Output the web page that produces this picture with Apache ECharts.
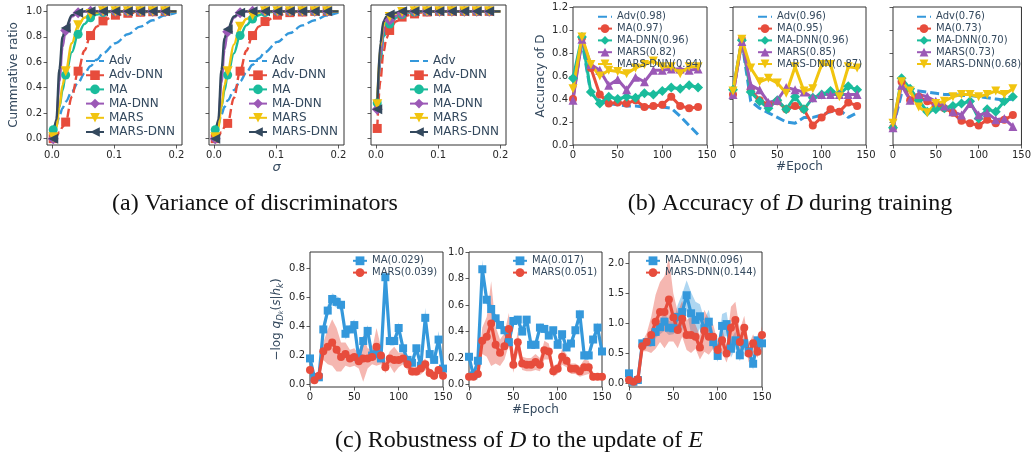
<!DOCTYPE html>
<html lang="en">
<head>
<meta charset="UTF-8">
<title>Discriminator variance, accuracy and robustness</title>
<script src="https://cdn.jsdelivr.net/npm/echarts@6/dist/echarts.min.js"></script>
<style>
  html, body { margin: 0; padding: 0; background: #fff; }
  #main { width: 1034px; height: 460px; }
</style>
</head>
<body>
<div id="main"></div>
<script>
// ---- (a) cumulative ratio over sigma ----
var sigma = [0.002, 0.007, 0.012, 0.017, 0.022, 0.032, 0.042, 0.052, 0.062, 0.072, 0.082, 0.102, 0.122, 0.142, 0.162, 0.182, 0.2];
var sigmaMarked = [0, 4, 6, 8, 10, 11, 12, 13, 14, 15];

var a1Adv     = [0.00, 0.10, 0.18, 0.24, 0.29, 0.37, 0.44, 0.51, 0.57, 0.62, 0.67, 0.75, 0.82, 0.88, 0.93, 0.97, 0.99];
var a1AdvDnn  = [0.00, 0.02, 0.05, 0.09, 0.13, 0.33, 0.53, 0.69, 0.81, 0.88, 0.925, 0.97, 0.985, 0.993, 0.997, 1.0, 1.0];
var a1Ma      = [0.07, 0.13, 0.25, 0.38, 0.50, 0.68, 0.82, 0.90, 0.95, 0.975, 0.99, 1.0, 1.0, 1.0, 1.0, 1.0, 1.0];
var a1MaDnn   = [0.00, 0.12, 0.45, 0.72, 0.85, 0.96, 0.99, 1.0, 1.0, 1.0, 1.0, 1.0, 1.0, 1.0, 1.0, 1.0, 1.0];
var a1Mars    = [0.01, 0.08, 0.25, 0.42, 0.53, 0.75, 0.89, 0.95, 0.98, 0.99, 1.0, 1.0, 1.0, 1.0, 1.0, 1.0, 1.0];
var a1MarsDnn = [0.00, 0.15, 0.55, 0.80, 0.87, 0.97, 0.99, 1.0, 1.0, 1.0, 1.0, 1.0, 1.0, 1.0, 1.0, 1.0, 1.0];

var a2Adv     = [0.00, 0.11, 0.19, 0.25, 0.30, 0.38, 0.45, 0.52, 0.58, 0.63, 0.68, 0.76, 0.83, 0.89, 0.93, 0.97, 0.99];
var a2AdvDnn  = [0.00, 0.02, 0.05, 0.09, 0.12, 0.32, 0.53, 0.69, 0.81, 0.88, 0.92, 0.97, 0.99, 0.995, 1.0, 1.0, 1.0];
var a2Ma      = [0.07, 0.13, 0.25, 0.38, 0.50, 0.67, 0.81, 0.89, 0.94, 0.97, 0.99, 1.0, 1.0, 1.0, 1.0, 1.0, 1.0];
var a2MaDnn   = [0.00, 0.12, 0.44, 0.70, 0.84, 0.95, 0.99, 1.0, 1.0, 1.0, 1.0, 1.0, 1.0, 1.0, 1.0, 1.0, 1.0];
var a2Mars    = [0.01, 0.08, 0.25, 0.42, 0.53, 0.74, 0.88, 0.94, 0.97, 0.99, 1.0, 1.0, 1.0, 1.0, 1.0, 1.0, 1.0];
var a2MarsDnn = [0.00, 0.15, 0.54, 0.79, 0.86, 0.96, 0.99, 1.0, 1.0, 1.0, 1.0, 1.0, 1.0, 1.0, 1.0, 1.0, 1.0];

var a3Adv     = [0.20, 0.60, 0.78, 0.86, 0.90, 0.945, 0.97, 0.985, 0.99, 0.995, 0.997, 1.0, 1.0, 1.0, 1.0, 1.0, 1.0];
var a3AdvDnn  = [0.08, 0.45, 0.68, 0.79, 0.85, 0.92, 0.955, 0.97, 0.98, 0.99, 0.995, 1.0, 1.0, 1.0, 1.0, 1.0, 1.0];
var a3Ma      = [0.28, 0.62, 0.80, 0.87, 0.90, 0.95, 0.975, 0.99, 0.995, 0.998, 1.0, 1.0, 1.0, 1.0, 1.0, 1.0, 1.0];
var a3MaDnn   = [0.23, 0.65, 0.84, 0.90, 0.93, 0.965, 0.985, 0.995, 1.0, 1.0, 1.0, 1.0, 1.0, 1.0, 1.0, 1.0, 1.0];
var a3Mars    = [0.27, 0.72, 0.89, 0.94, 0.955, 0.985, 0.995, 1.0, 1.0, 1.0, 1.0, 1.0, 1.0, 1.0, 1.0, 1.0, 1.0];
var a3MarsDnn = [0.23, 0.75, 0.92, 0.96, 0.975, 0.99, 1.0, 1.0, 1.0, 1.0, 1.0, 1.0, 1.0, 1.0, 1.0, 1.0, 1.0];

var aNames = ['Adv', 'Adv-DNN', 'MA', 'MA-DNN', 'MARS', 'MARS-DNN'];

// ---- (b) accuracy of D over epochs ----
var bEpoch = [0, 10, 20, 30, 40, 50, 60, 70, 80, 90, 100, 110, 120, 130, 140];

var b1Adv     = [0.42, 0.90, 0.45, 0.38, 0.36, 0.35, 0.34, 0.34, 0.33, 0.33, 0.33, 0.32, 0.25, 0.17, 0.09];
var b1Ma      = [0.40, 0.93, 0.67, 0.44, 0.36, 0.37, 0.36, 0.39, 0.33, 0.34, 0.35, 0.42, 0.34, 0.32, 0.33];
var b1MaDnn   = [0.58, 0.94, 0.46, 0.36, 0.42, 0.40, 0.42, 0.41, 0.45, 0.44, 0.47, 0.50, 0.49, 0.52, 0.50];
var b1Mars    = [0.39, 0.92, 0.70, 0.65, 0.52, 0.57, 0.48, 0.59, 0.55, 0.65, 0.65, 0.66, 0.66, 0.65, 0.66];
var b1MarsDnn = [0.49, 0.94, 0.70, 0.60, 0.65, 0.64, 0.62, 0.67, 0.70, 0.73, 0.68, 0.68, 0.62, 0.68, 0.68];
var b1Names = ['Adv(0.98)', 'MA(0.97)', 'MA-DNN(0.96)', 'MARS(0.82)', 'MARS-DNN(0.94)'];

var b2Adv     = [0.45, 0.90, 0.38, 0.32, 0.28, 0.24, 0.20, 0.19, 0.24, 0.24, 0.26, 0.29, 0.31, 0.24, 0.28];
var b2Ma      = [0.44, 0.92, 0.48, 0.39, 0.35, 0.38, 0.31, 0.34, 0.31, 0.17, 0.24, 0.31, 0.29, 0.37, 0.34];
var b2MaDnn   = [0.48, 0.91, 0.46, 0.38, 0.32, 0.39, 0.31, 0.42, 0.31, 0.41, 0.44, 0.47, 0.44, 0.51, 0.48];
var b2Mars    = [0.44, 0.90, 0.52, 0.48, 0.37, 0.39, 0.50, 0.48, 0.46, 0.41, 0.44, 0.44, 0.44, 0.44, 0.44];
var b2MarsDnn = [0.47, 0.92, 0.67, 0.55, 0.58, 0.54, 0.45, 0.68, 0.47, 0.49, 0.70, 0.70, 0.42, 0.68, 0.67];
var b2Names = ['Adv(0.96)', 'MA(0.95)', 'MA-DNN(0.96)', 'MARS(0.85)', 'MARS-DNN(0.87)'];

var b3Adv     = [0.15, 0.45, 0.48, 0.47, 0.46, 0.45, 0.44, 0.44, 0.43, 0.43, 0.42, 0.41, 0.40, 0.39, 0.40];
var b3Ma      = [0.15, 0.55, 0.39, 0.42, 0.38, 0.35, 0.32, 0.28, 0.21, 0.19, 0.17, 0.22, 0.19, 0.22, 0.26];
var b3MaDnn   = [0.15, 0.58, 0.49, 0.39, 0.29, 0.31, 0.32, 0.34, 0.36, 0.38, 0.23, 0.31, 0.29, 0.38, 0.42];
var b3Mars    = [0.15, 0.52, 0.39, 0.44, 0.42, 0.38, 0.34, 0.29, 0.26, 0.36, 0.26, 0.28, 0.22, 0.23, 0.16];
var b3MarsDnn = [0.19, 0.55, 0.47, 0.33, 0.28, 0.36, 0.38, 0.42, 0.44, 0.44, 0.42, 0.44, 0.47, 0.44, 0.49];
var b3Names = ['Adv(0.76)', 'MA(0.73)', 'MA-DNN(0.70)', 'MARS(0.73)', 'MARS-DNN(0.68)'];

// ---- (c) -log q over epochs, mean and spread ----
var cEpoch = [0, 5, 10, 15, 20, 25, 30, 35, 40, 45, 50, 55, 60, 65, 70, 75, 80, 85, 90, 95, 100, 105, 110, 115, 120, 125, 130, 135, 140, 145, 150];

var c1Ma     = [0.18, 0.05, 0.05, 0.38, 0.51, 0.59, 0.57, 0.55, 0.35, 0.38, 0.41, 0.18, 0.30, 0.37, 0.20, 0.21, 0.18, 0.74, 0.30, 0.30, 0.39, 0.25, 0.17, 0.15, 0.25, 0.13, 0.46, 0.21, 0.17, 0.31, 0.11];
var c1MaSd   = [0.03, 0.02, 0.02, 0.04, 0.04, 0.04, 0.04, 0.04, 0.04, 0.03, 0.04, 0.04, 0.04, 0.04, 0.03, 0.03, 0.03, 0.05, 0.03, 0.03, 0.04, 0.03, 0.03, 0.03, 0.03, 0.03, 0.07, 0.04, 0.03, 0.06, 0.04];
var c1Mars   = [0.10, 0.03, 0.06, 0.23, 0.26, 0.29, 0.24, 0.19, 0.21, 0.18, 0.19, 0.16, 0.18, 0.18, 0.19, 0.26, 0.20, 0.12, 0.18, 0.17, 0.17, 0.18, 0.14, 0.09, 0.09, 0.11, 0.14, 0.08, 0.06, 0.10, 0.06];
var c1MarsSd = [0.03, 0.02, 0.02, 0.06, 0.12, 0.16, 0.15, 0.10, 0.08, 0.06, 0.06, 0.05, 0.16, 0.07, 0.05, 0.13, 0.06, 0.04, 0.05, 0.09, 0.05, 0.04, 0.04, 0.03, 0.03, 0.04, 0.04, 0.03, 0.03, 0.03, 0.03];
var c1Names = ['MA(0.029)', 'MARS(0.039)'];

var c2Ma     = [0.21, 0.07, 0.18, 0.87, 0.64, 0.57, 0.50, 0.45, 0.41, 0.32, 0.48, 0.49, 0.40, 0.49, 0.30, 0.30, 0.43, 0.42, 0.37, 0.41, 0.30, 0.38, 0.28, 0.31, 0.41, 0.53, 0.22, 0.22, 0.34, 0.43, 0.25];
var c2MaSd   = [0.03, 0.02, 0.03, 0.07, 0.04, 0.04, 0.03, 0.03, 0.03, 0.03, 0.03, 0.03, 0.03, 0.03, 0.03, 0.03, 0.03, 0.03, 0.03, 0.03, 0.03, 0.03, 0.03, 0.03, 0.03, 0.04, 0.03, 0.03, 0.03, 0.04, 0.03];
var c2Mars   = [0.06, 0.06, 0.08, 0.33, 0.36, 0.46, 0.30, 0.24, 0.29, 0.42, 0.15, 0.32, 0.16, 0.15, 0.15, 0.17, 0.15, 0.26, 0.25, 0.10, 0.12, 0.21, 0.18, 0.12, 0.12, 0.10, 0.13, 0.13, 0.06, 0.06, 0.06];
var c2MarsSd = [0.02, 0.02, 0.03, 0.10, 0.15, 0.32, 0.14, 0.10, 0.10, 0.12, 0.06, 0.08, 0.05, 0.05, 0.05, 0.06, 0.05, 0.07, 0.06, 0.04, 0.04, 0.06, 0.05, 0.04, 0.04, 0.04, 0.06, 0.05, 0.03, 0.02, 0.02];
var c2Names = ['MA(0.017)', 'MARS(0.051)'];

var c3Ma     = [0.17, 0.03, 0.06, 0.67, 0.69, 0.69, 0.86, 0.94, 1.03, 0.93, 0.92, 1.11, 1.19, 1.47, 1.17, 1.06, 1.12, 0.92, 1.03, 0.69, 0.46, 0.96, 0.99, 0.58, 0.72, 0.47, 0.67, 0.53, 0.33, 0.72, 0.67];
var c3MaSd   = [0.10, 0.03, 0.03, 0.05, 0.05, 0.08, 0.10, 0.12, 0.15, 0.12, 0.10, 0.20, 0.30, 0.25, 0.35, 0.30, 0.20, 0.15, 0.20, 0.15, 0.10, 0.20, 0.20, 0.15, 0.15, 0.10, 0.10, 0.10, 0.10, 0.10, 0.15];
var c3Mars   = [0.06, 0.03, 0.07, 0.62, 0.69, 0.81, 1.03, 1.19, 1.19, 1.40, 1.10, 0.89, 1.08, 0.81, 0.81, 0.78, 0.60, 0.88, 0.78, 0.78, 0.56, 0.72, 0.50, 0.93, 1.06, 0.69, 0.93, 0.50, 0.67, 0.53, 0.81];
var c3MarsSd = [0.03, 0.03, 0.03, 0.08, 0.15, 0.30, 0.45, 0.50, 0.60, 0.70, 0.40, 0.30, 0.30, 0.25, 0.30, 0.20, 0.20, 0.35, 0.30, 0.20, 0.15, 0.20, 0.15, 0.35, 0.30, 0.20, 0.20, 0.15, 0.15, 0.10, 0.15];
var c3Names = ['MA-DNN(0.096)', 'MARS-DNN(0.144)'];

// tick labels
var aXTicks = [0, 0.1, 0.2];
var aYTicks = [0, 0.2, 0.4, 0.6, 0.8, 1.0];
var c1YTicks = [0, 0.2, 0.4, 0.6, 0.8];
var c2YTicks = [0, 0.2, 0.4, 0.6, 0.8, 1.0];
var c3YTicks = [0, 0.5, 1.0, 1.5, 2.0];

// ---- styling ----
var FONT = 'DejaVu Sans';
var TICK = '#262626';
var LABEL = '#34495e';
var FRAME = '#333333';
var BLUE = '#3498db', RED = '#e74c3c', TEAL = '#1abc9c', PURPLE = '#9b59b6', YELLOW = '#f1c40f', NAVY = '#34495e';

var grids = [], xAxes = [], yAxes = [], series = [], legends = [];

function fmt1(v) { return v.toFixed(1); }

function axis(opts) {
  var ax = {
    type: 'value',
    min: opts.min, max: opts.max,
    axisLine: { show: false, onZero: false },
    splitLine: { show: false },
    axisTick: { show: true, inside: false, length: 3.5, lineStyle: { color: FRAME, width: 0.8 } },
    axisLabel: { show: opts.labels !== false, color: TICK, fontSize: 10, fontFamily: FONT, margin: 5 }
  };
  if (opts.ticks) {
    ax.axisTick.customValues = opts.ticks;
    ax.axisLabel.customValues = opts.ticks;
  } else {
    ax.interval = opts.interval;
  }
  if (opts.fmt) ax.axisLabel.formatter = opts.fmt;
  if (opts.name) {
    ax.name = opts.name;
    ax.nameLocation = 'middle';
    ax.nameGap = opts.nameGap;
    ax.nameTextStyle = Object.assign({ color: LABEL, fontSize: 12, fontFamily: FONT }, opts.nameStyle || {});
  }
  return ax;
}

function panel(box, xa, ya) {
  var gi = grids.length;
  grids.push({ left: box[0], top: box[1], width: box[2], height: box[3], show: true,
    borderColor: FRAME, borderWidth: 1, backgroundColor: 'transparent' });
  var x = axis(xa); x.gridIndex = gi; xAxes.push(x);
  var y = axis(ya); y.gridIndex = gi; yAxes.push(y);
  return gi;
}

function line(gi, name, xs, ys, st) {
  var data = xs.map(function (x, i) {
    if (st.marked && st.marked.indexOf(i) < 0) return { value: [x, ys[i]], symbol: 'none' };
    return [x, ys[i]];
  });
  return {
    type: 'line', name: name, xAxisIndex: gi, yAxisIndex: gi, data: data,
    symbol: st.symbol || 'none', symbolSize: st.size || 7, symbolRotate: st.rotate || 0,
    showSymbol: !!st.symbol, smooth: st.smooth || false, smoothMonotone: 'x',
    lineStyle: { color: st.color, width: st.width, type: st.dash ? [9, 4] : 'solid' },
    itemStyle: { color: st.color, borderWidth: 0 },
    clip: true, z: 3
  };
}

function band(gi, xs, mean, sd, fill) {
  return {
    type: 'custom', xAxisIndex: gi, yAxisIndex: gi, silent: true, clip: true, z: 2,
    data: [[xs[0], mean[0]]],
    renderItem: function (params, api) {
      var pts = [];
      for (var i = 0; i < xs.length; i++) pts.push(api.coord([xs[i], mean[i] + sd[i]]));
      for (var j = xs.length - 1; j >= 0; j--) pts.push(api.coord([xs[j], mean[j] - sd[j]]));
      return { type: 'polygon', shape: { points: pts }, style: { fill: fill } };
    }
  };
}

// dashed series have no marker, so their legend entry hides the symbol
function legend(left, top, names, plain, size, gap, iconW, iconH) {
  legends.push({
    orient: 'vertical', left: left, top: top, padding: 0, itemGap: gap,
    itemWidth: iconW, itemHeight: iconH, selectedMode: false,
    data: names.map(function (n, i) {
      return i === plain ? { name: n, itemStyle: { color: 'rgba(0,0,0,0)', borderWidth: 0 } } : n;
    }),
    textStyle: { color: LABEL, fontSize: size, fontFamily: FONT, lineHeight: size + 1 }
  });
}

// (a) panels
var aBoxes = [[47, 5, 135, 140], [209, 5, 135, 140], [371, 5, 135, 140]];
var aData = [
  [a1Adv, a1AdvDnn, a1Ma, a1MaDnn, a1Mars, a1MarsDnn],
  [a2Adv, a2AdvDnn, a2Ma, a2MaDnn, a2Mars, a2MarsDnn],
  [a3Adv, a3AdvDnn, a3Ma, a3MaDnn, a3Mars, a3MarsDnn]
];
var aStyles = [
  { color: BLUE, width: 2.4, dash: true },
  { color: RED, width: 2.4, dash: true, symbol: 'rect', size: 9 },
  { color: TEAL, width: 2.4, symbol: 'circle', size: 9 },
  { color: PURPLE, width: 2.4, symbol: 'diamond', size: 11 },
  { color: YELLOW, width: 2.4, symbol: 'triangle', size: 10, rotate: 180 },
  { color: NAVY, width: 2.4, symbol: 'triangle', size: 10, rotate: 90 }
];
var aLegendLeft = [85, 248, 409];
aBoxes.forEach(function (box, k) {
  var gi = panel(box,
    { min: -0.008, max: 0.209, ticks: aXTicks, fmt: fmt1,
      name: k === 1 ? 'σ' : null, nameGap: 14, nameStyle: { fontStyle: 'italic', fontSize: 13 } },
    { min: -0.05, max: 1.05, ticks: aYTicks, fmt: fmt1, labels: k === 0,
      name: k === 0 ? 'Cummrative ratio' : null, nameGap: 27 });
  aNames.forEach(function (n, s) {
    var st = Object.assign({ smooth: 0.35, marked: sigmaMarked }, aStyles[s]);
    series.push(line(gi, n, sigma, aData[k][s], st));
  });
  legend(aLegendLeft[k], 54.5, aNames, 0, 12, 1.2, 18, 12);
});

// (b) panels
var bBoxes = [[573, 7, 134, 138], [733, 7, 133, 138], [893, 7, 132, 138]];
var bData = [
  [b1Adv, b1Ma, b1MaDnn, b1Mars, b1MarsDnn],
  [b2Adv, b2Ma, b2MaDnn, b2Mars, b2MarsDnn],
  [b3Adv, b3Ma, b3MaDnn, b3Mars, b3MarsDnn]
];
var bNames = [b1Names, b2Names, b3Names];
var bStyles = [
  { color: BLUE, width: 3, dash: true },
  { color: RED, width: 3, symbol: 'circle', size: 8 },
  { color: TEAL, width: 3, symbol: 'diamond', size: 10 },
  { color: PURPLE, width: 3, symbol: 'triangle', size: 9 },
  { color: YELLOW, width: 3, symbol: 'triangle', size: 9, rotate: 180 }
];
var bLegendLeft = [597, 757, 916];
bBoxes.forEach(function (box, k) {
  var gi = panel(box,
    { min: 0, max: 150, interval: 50, name: k === 1 ? '#Epoch' : null, nameGap: 16 },
    { min: 0, max: 1.2, interval: 0.2, fmt: fmt1, labels: k === 0,
      name: k === 0 ? 'Accuracy of D' : null, nameGap: 26 });
  bNames[k].forEach(function (n, s) {
    series.push(line(gi, n, bEpoch, bData[k][s], bStyles[s]));
  });
  legend(bLegendLeft[k], 11.3, bNames[k], 0, 10, 0.8, 14, 11);
});

// (c) panels
var cBoxes = [[310, 252, 133, 135], [469, 252, 133, 135], [629, 252, 133, 135]];
var cYRange = [[-0.017, 0.914, c1YTicks], [-0.018, 1.0, c2YTicks], [-0.057, 2.19, c3YTicks]];
var cData = [[c1Ma, c1MaSd, c1Mars, c1MarsSd], [c2Ma, c2MaSd, c2Mars, c2MarsSd], [c3Ma, c3MaSd, c3Mars, c3MarsSd]];
var cNames = [c1Names, c2Names, c3Names];
var cLegendLeft = [352, 512, 645];
var cYName = '{t|−log}{i| q}{s|D}{ss|k}{t|(}{i|s}{t||}{i|h}{s|k}{t|)}';
cBoxes.forEach(function (box, k) {
  var gi = panel(box,
    { min: 0, max: 150, interval: 50, name: k === 1 ? '#Epoch' : null, nameGap: 17 },
    { min: cYRange[k][0], max: cYRange[k][1], ticks: cYRange[k][2], fmt: fmt1,
      name: k === 0 ? cYName : null, nameGap: 22,
      nameStyle: { rich: {
        t: { fontSize: 12, fontFamily: FONT, color: LABEL, lineHeight: 16, verticalAlign: 'middle' },
        i: { fontSize: 12, fontFamily: FONT, color: LABEL, fontStyle: 'italic', lineHeight: 16, verticalAlign: 'middle' },
        s: { fontSize: 8.5, fontFamily: FONT, color: LABEL, fontStyle: 'italic', lineHeight: 16, verticalAlign: 'bottom' },
        ss: { fontSize: 6.5, fontFamily: FONT, color: LABEL, fontStyle: 'italic', lineHeight: 14, verticalAlign: 'bottom' }
      } } });
  var d = cData[k];
  series.push(band(gi, cEpoch, d[0], d[1], 'rgba(52,152,219,0.4)'));
  series.push(band(gi, cEpoch, d[2], d[3], 'rgba(231,76,60,0.4)'));
  series.push(line(gi, cNames[k][0], cEpoch, d[0], { color: BLUE, width: 3.2, symbol: 'rect', size: 8 }));
  series.push(line(gi, cNames[k][1], cEpoch, d[2], { color: RED, width: 3.2, symbol: 'circle', size: 8 }));
  legend(cLegendLeft[k], 255.3, cNames[k], -1, 10, 0.8, 14, 11);
});

// captions
var capRich = {
  n: { fontFamily: 'Liberation Serif', fontSize: 24, fill: '#111' },
  i: { fontFamily: 'Liberation Serif', fontSize: 24, fontStyle: 'italic', fill: '#111' }
};
function caption(x, y, text) {
  return { type: 'text', x: x, y: y, silent: true,
    style: { text: text, rich: capRich, align: 'center', verticalAlign: 'middle' } };
}

var chart = echarts.init(document.getElementById('main'), null, { renderer: 'canvas' });
chart.setOption({
  animation: false,
  backgroundColor: '#fff',
  grid: grids,
  xAxis: xAxes,
  yAxis: yAxes,
  legend: legends,
  series: series,
  graphic: [
    caption(255, 204, '{n|(a) Variance of discriminators}'),
    caption(790, 204, '{n|(b) Accuracy of }{i|D}{n| during training}'),
    caption(519, 441, '{n|(c) Robustness of }{i|D}{n| to the update of }{i|E}')
  ]
});
</script>
</body>
</html>
